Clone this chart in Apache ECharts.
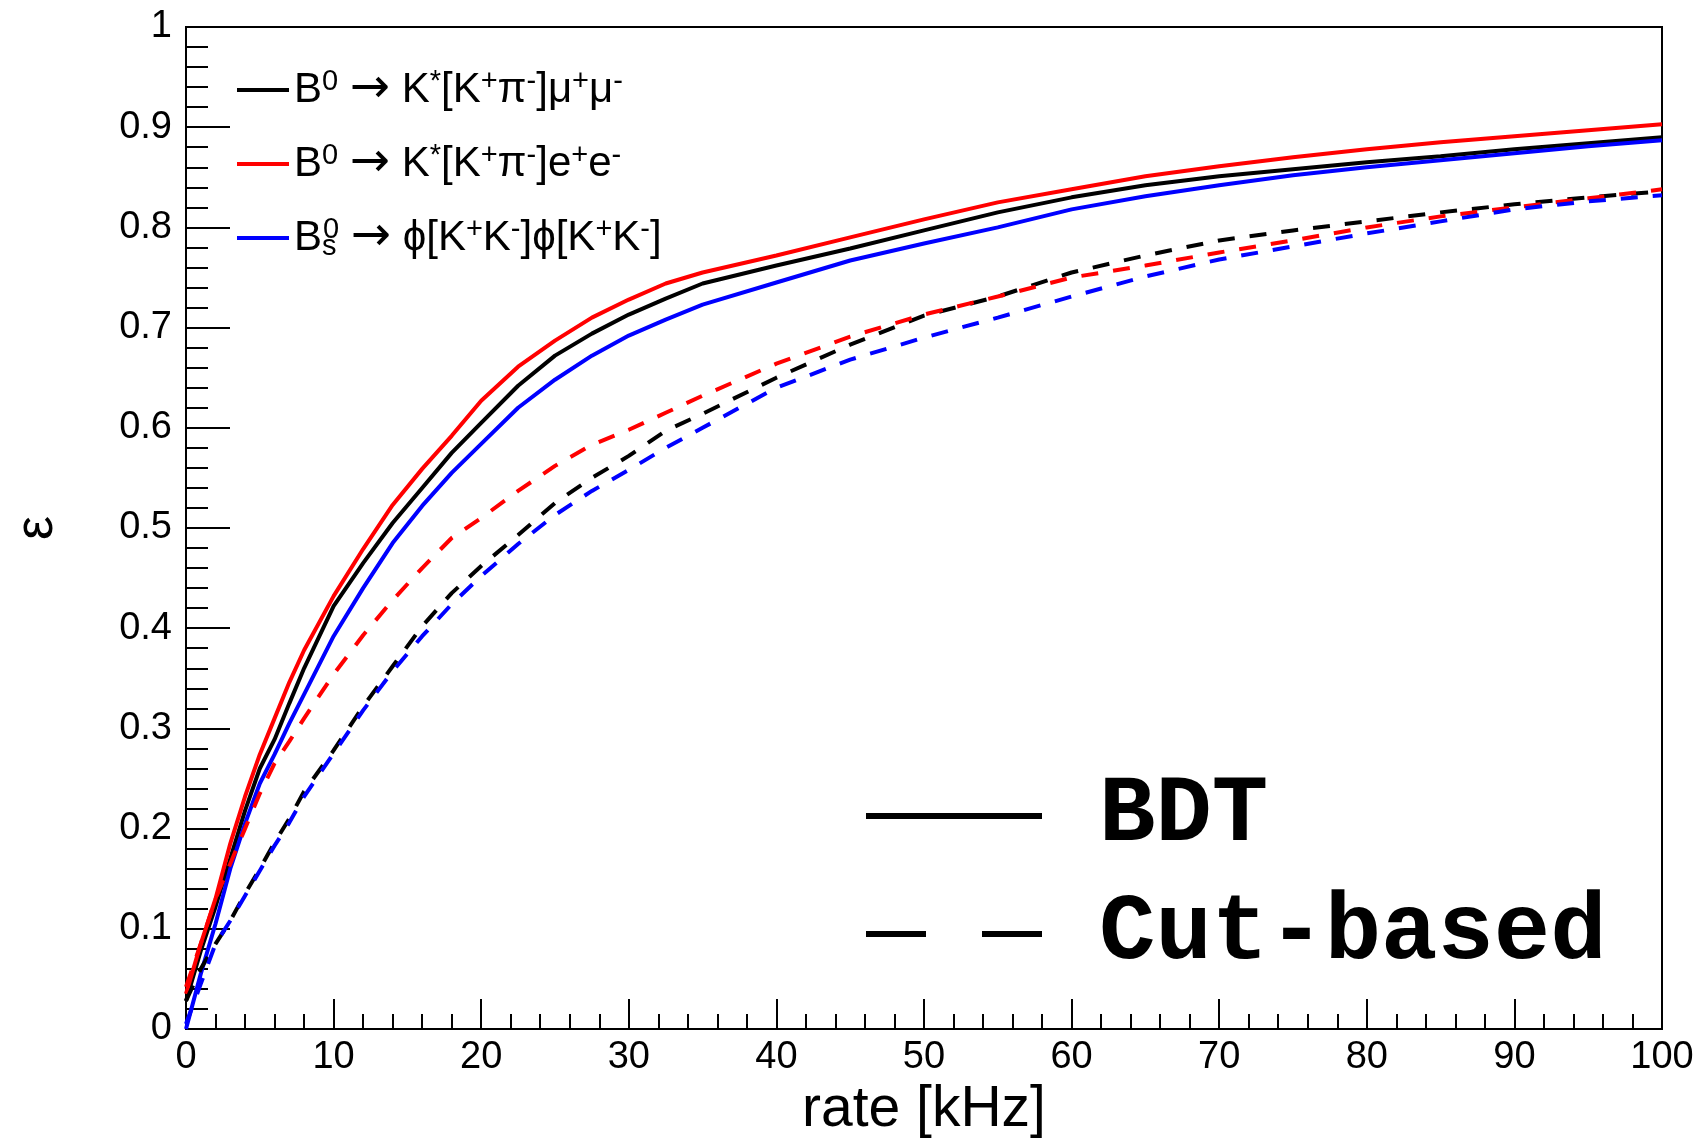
<!DOCTYPE html>
<html>
<head>
<meta charset="utf-8">
<script src="https://cdn.jsdelivr.net/npm/echarts@6/dist/echarts.min.js"></script>
<style>
html,body{margin:0;padding:0;background:#fff}
#chart{width:1698px;height:1139px}
</style>
</head>
<body>
<div id="chart"></div>
<script>
// rate in kHz
const rate = [0,1,2,3,4,5,6,7,8,10,12,14,16,18,20,22.5,25,27.5,30,32.5,35,40,45,50,55,60,65,70,75,80,85,90,95,100]

// BDT (solid)
const bdtMuMu = [0.028,0.078,0.122,0.17,0.218,0.26,0.289,0.325,0.36,0.422,0.465,0.505,0.54,0.575,0.605,0.642,0.672,0.694,0.713,0.729,0.744,0.762,0.779,0.797,0.815,0.83,0.842,0.851,0.858,0.865,0.871,0.878,0.884,0.89]
const bdtEE = [0.035,0.085,0.13,0.185,0.232,0.274,0.31,0.346,0.378,0.432,0.479,0.523,0.559,0.592,0.627,0.661,0.687,0.71,0.728,0.744,0.755,0.772,0.79,0.808,0.825,0.838,0.851,0.861,0.87,0.878,0.885,0.891,0.897,0.903]
const bdtPhiPhi = [0,0.055,0.105,0.16,0.205,0.245,0.274,0.305,0.334,0.392,0.44,0.485,0.522,0.555,0.584,0.62,0.648,0.672,0.692,0.708,0.723,0.745,0.767,0.784,0.8,0.818,0.831,0.842,0.852,0.86,0.867,0.874,0.881,0.887]

// cut-based (dashed)
const cutMuMu = [0.028,0.06,0.085,0.108,0.135,0.16,0.186,0.21,0.237,0.278,0.322,0.362,0.402,0.435,0.462,0.493,0.525,0.55,0.572,0.597,0.614,0.65,0.683,0.712,0.731,0.755,0.772,0.787,0.797,0.806,0.815,0.823,0.83,0.836]
const cutEE = [0.042,0.085,0.13,0.165,0.2,0.235,0.265,0.287,0.31,0.354,0.393,0.428,0.46,0.49,0.51,0.537,0.562,0.583,0.598,0.615,0.632,0.664,0.691,0.713,0.731,0.75,0.762,0.775,0.787,0.8,0.811,0.82,0.829,0.838]
const cutPhiPhi = [0.005,0.045,0.085,0.108,0.133,0.158,0.183,0.206,0.232,0.275,0.318,0.357,0.392,0.424,0.452,0.484,0.513,0.537,0.558,0.58,0.6,0.64,0.668,0.69,0.71,0.731,0.751,0.768,0.781,0.794,0.806,0.818,0.826,0.832]

const channels = ['mumu','ee','phiphi']
const colors = ['#000000','#ff0000','#0000ff']
const methods = ['BDT','Cut-based']

// legend labels with super/subscripts
const channelLabels = {
    mumu:'{n|B}{sup|0}{n| }{arr|\u2192}{n| K}{sup|*}{n|[K}{sup|+}{n|\u03c0}{sup|-}{n|]\u03bc}{sup|+}{n|\u03bc}{sup|-}',
    ee:'{n|B}{sup|0}{n| }{arr|\u2192}{n| K}{sup|*}{n|[K}{sup|+}{n|\u03c0}{sup|-}{n|]e}{sup|+}{n|e}{sup|-}',
    phiphi:'{n|B}{sub|s}{sup|0}{n| }{arr|\u2192}{n| \u03d5[K}{sup|+}{n|K}{sup|-}{n|]\u03d5[K}{sup|+}{n|K}{sup|-}{n|]}'
}

const font = 'Liberation Sans'
const dash = [17,15]

const chart = echarts.init(document.getElementById('chart'))

const makeLine = (name, data, color, dashed)=>({
    name:name,
    type:'line',
    data:rate.map((r,i)=>[r,data[i]]),
    symbol:'none',
    color:color,
    lineStyle:{width:4, color:color, type:dashed ? dash : 'solid', cap:'butt'}
})

const options = {
    animation:false,
    backgroundColor:'#fff',
    grid:{
        left:186, right:36, top:27, bottom:110,
        show:true, borderColor:'#000', borderWidth:2,
        containLabel:false, outerBoundsMode:'none'
    },
    xAxis:{
        type:'value', min:0, max:100, interval:10,
        name:'rate [kHz]', nameLocation:'middle', nameGap:52,
        nameTextStyle:{fontFamily:font, fontSize:57, color:'#000'},
        axisLine:{show:true, onZero:false, lineStyle:{color:'#000', width:2}},
        axisTick:{show:true, inside:true, length:30, lineStyle:{color:'#000', width:2}},
        minorTick:{show:true, splitNumber:5, length:15, lineStyle:{color:'#000', width:2}},
        splitLine:{show:false},
        axisLabel:{fontFamily:font, fontSize:38, color:'#000', margin:10}
    },
    yAxis:{
        type:'value', min:0, max:1, interval:0.1,
        name:'\u03b5', nameLocation:'middle', nameGap:122, nameRotate:90,
        nameTextStyle:{fontFamily:font, fontSize:54, color:'#000'},
        axisLine:{show:true, onZero:false, lineStyle:{color:'#000', width:2}},
        axisTick:{show:true, inside:true, length:44, lineStyle:{color:'#000', width:2}},
        minorTick:{show:true, splitNumber:5, length:22, lineStyle:{color:'#000', width:2}},
        splitLine:{show:false},
        axisLabel:{fontFamily:font, fontSize:38, color:'#000', margin:14}
    },
    legend:[
        {
            data:channels,
            orient:'vertical',
            left:232, top:61,
            itemWidth:52, itemHeight:4, itemGap:26,
            icon:'rect',
            selectedMode:false,
            itemStyle:{borderWidth:0},
            formatter:name=>channelLabels[name],
            textStyle:{
                color:'#000',
                rich:{
                    n:{fontFamily:font, fontSize:42, lineHeight:46, color:'#000'},
                    arr:{fontFamily:'DejaVu Sans', fontSize:48, lineHeight:46, color:'#000'},
                    sup:{fontFamily:font, fontSize:29, lineHeight:22, verticalAlign:'top', color:'#000'},
                    sub:{fontFamily:font, fontSize:29, lineHeight:22, verticalAlign:'bottom', width:1, color:'#000'}
                }
            }
        },
        {
            data:[
                {name:'BDT', icon:'rect'},
                {name:'Cut-based', icon:'path://M0 0H60V6H0ZM116 0H176V6H116Z'}
            ],
            orient:'vertical',
            left:861, top:764,
            itemWidth:176, itemHeight:6, itemGap:24,
            selectedMode:false,
            itemStyle:{borderWidth:0},
            formatter:name=>'{m|' + name + '}',
            textStyle:{
                color:'#000',
                rich:{
                    m:{fontFamily:'Liberation Mono', fontWeight:'bold', fontSize:94, lineHeight:100, color:'#000', padding:[0,0,0,52]}
                }
            }
        }
    ],
    series:[
        makeLine('mumu', bdtMuMu, colors[0], false),
        makeLine('ee', bdtEE, colors[1], false),
        makeLine('phiphi', bdtPhiPhi, colors[2], false),
        makeLine('mumu cut', cutMuMu, colors[0], true),
        makeLine('ee cut', cutEE, colors[1], true),
        makeLine('phiphi cut', cutPhiPhi, colors[2], true),
        // only used by the method legend
        {name:methods[0], type:'line', data:[], color:'#000'},
        {name:methods[1], type:'line', data:[], color:'#000'}
    ]
}
chart.setOption(options)
</script>
</body>
</html>
